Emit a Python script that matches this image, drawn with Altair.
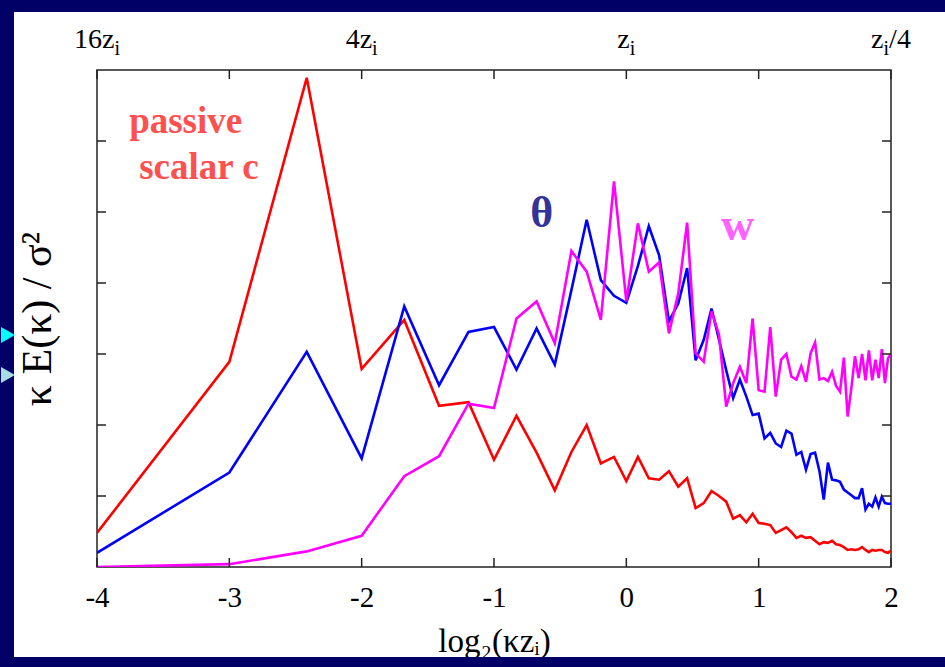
import altair as alt
import pandas as pd
import numpy as np

# wavenumber index n (domain 16 z_i): kz_i = n/16
wavenumber = list(range(1, 65))

passive_c = [0.48, 2.89, 6.89, 2.79, 3.48, 2.27, 2.32, 1.51, 2.13, 1.61,
             1.08, 1.62, 2.00, 1.46, 1.55, 1.21, 1.55, 1.25, 1.23, 1.35,
             1.13, 1.25, 0.83, 0.90, 1.07, 1.00, 0.92, 0.68, 0.73, 0.63,
             0.75, 0.62, 0.61, 0.59, 0.48, 0.52, 0.56, 0.49, 0.41, 0.44,
             0.41, 0.42, 0.37, 0.32, 0.35, 0.34, 0.37, 0.32, 0.31, 0.28,
             0.24, 0.25, 0.24, 0.25, 0.28, 0.24, 0.21, 0.24, 0.23, 0.24,
             0.24, 0.21, 0.20, 0.23]

theta = [0.20, 1.33, 3.03, 1.53, 3.67, 2.56, 3.31, 3.38, 2.78, 3.36,
         2.85, 3.90, 4.89, 4.04, 3.82, 3.72, 4.24, 4.80, 4.39, 3.46,
         3.71, 4.21, 2.91, 3.20, 3.64, 3.20, 2.77, 2.38, 2.64, 2.40,
         2.14, 2.16, 1.81, 1.89, 1.74, 1.69, 1.92, 1.88, 1.58, 1.62,
         1.37, 1.59, 1.61, 1.35, 0.95, 1.47, 1.23, 1.22, 1.20, 1.09,
         1.05, 1.01, 0.97, 0.97, 1.11, 0.81, 0.89, 0.85, 0.98, 0.85,
         0.99, 0.90, 0.89, 0.89]

w_vel = [0.00, 0.04, 0.22, 0.44, 1.28, 1.56, 2.30, 2.24, 3.50, 3.74,
         3.15, 4.45, 4.16, 3.48, 5.43, 3.74, 4.84, 4.16, 4.29, 3.29,
         3.85, 4.85, 3.01, 2.89, 3.60, 3.27, 2.26, 2.59, 2.82, 2.59,
         3.50, 2.49, 2.47, 3.38, 2.40, 2.92, 3.00, 2.68, 2.64, 2.83,
         2.61, 3.01, 3.16, 2.64, 2.66, 2.62, 2.75, 2.55, 2.47, 2.95,
         2.12, 2.52, 2.97, 2.66, 3.00, 2.63, 3.05, 2.63, 2.92, 2.66,
         3.07, 2.59, 2.94, 3.00]

x_ticks = [-4, -3, -2, -1, 0, 1, 2]
y_ticks = [1, 2, 3, 4, 5, 6]
top_positions = [-4, -2, 0, 2]
top_main = ["16z", "4z", "z", "z"]
top_sub = ["i", "i", "i", "i"]
top_tail = ["", "", "", "/4"]

ann_text = ["passive", "scalar c", "θ", "w"]
ann_x = [-3.33, -3.23, -0.64, 0.84]
ann_y = [6.11, 5.46, 4.79, 4.61]
ann_color = ["#ff5050", "#ff5050", "#333399", "#ff60ff"]
ann_size = [37, 37, 44, 46]
ann_weight = ["bold", "bold", "bold", "bold"]

W, H = 794, 497
FONT = "Liberation Serif"
NAVY = "#000066"
TOP_SIZE = 28
SUB_SIZE = 20

xs = [float(np.log2(n / 16)) for n in wavenumber]

xscale = alt.Scale(domain=[-4, 2], nice=False, zero=False)
yscale = alt.Scale(domain=[0, 7], nice=False, zero=False)

xaxis = alt.Axis(values=x_ticks, ticks=False, domain=False, grid=False,
                 labelExpr="'' + datum.value",
                 labelFont=FONT, labelFontSize=29, labelColor="black",
                 labelPadding=16, labelFlush=False,
                 title="log₂(κzᵢ)", titleFont=FONT, titleFontSize=33,
                 titleFontWeight="normal", titleColor="black", titlePadding=13)
yaxis = alt.Axis(labels=False, ticks=False, domain=False, grid=False,
                 title="κ E(κ) / σ²", titleFont=FONT, titleFontSize=42,
                 titleFontWeight="normal", titleColor="black", titlePadding=38)

X = alt.X("x:Q", scale=xscale, axis=xaxis)
Y = alt.Y("y:Q", scale=yscale, axis=yaxis)

one = pd.DataFrame({"a": [0]})


def series_line(vals, color):
    df = pd.DataFrame({"x": xs, "y": vals, "n": wavenumber})
    return alt.Chart(df).mark_line(color=color, strokeWidth=2.6, clip=True).encode(
        x=X, y=Y, order="n:Q")


red = series_line(passive_c, "#ff0000")
blue = series_line(theta, "#0000ff")
mag = series_line(w_vel, "#ff00ff")

tick_df = pd.DataFrame({"x": x_ticks})
ytick_df = pd.DataFrame({"y": y_ticks})
tick_style = dict(color="#222222", strokeWidth=1.5)
bottom_ticks = alt.Chart(tick_df).mark_rule(**tick_style).encode(
    x=X, y=alt.value(H), y2=alt.value(H - 9))
top_ticks = alt.Chart(tick_df).mark_rule(**tick_style).encode(
    x=X, y=alt.value(0), y2=alt.value(9))
left_ticks = alt.Chart(ytick_df).mark_rule(**tick_style).encode(
    y=Y, x=alt.value(0), x2=alt.value(9))
right_ticks = alt.Chart(ytick_df).mark_rule(**tick_style).encode(
    y=Y, x=alt.value(W), x2=alt.value(W - 9))

# top (wavelength) labels: main text + subscript i + optional tail
CW = {"1": 0.5, "6": 0.5, "4": 0.5, "z": 0.444, "/": 0.278, "i": 0.278}


def text_w(s, size):
    return sum(CW.get(c, 0.5) for c in s) * size


top_layers = []
for pos, m, s, t in zip(top_positions, top_main, top_sub, top_tail):
    wm, ws, wt = text_w(m, TOP_SIZE), text_w(s, SUB_SIZE), text_w(t, TOP_SIZE)
    start = -(wm + ws + wt) / 2
    d = pd.DataFrame({"x": [pos]})
    parts = [(m, TOP_SIZE, start, 0), (s, SUB_SIZE, start + wm, 7)]
    if t:
        parts.append((t, TOP_SIZE, start + wm + ws, 0))
    for txt, size, dx, dy in parts:
        top_layers.append(
            alt.Chart(d).mark_text(font=FONT, fontSize=size, color="black",
                                   baseline="alphabetic", align="left",
                                   dx=dx, dy=dy, text=txt).encode(
                x=X, y=alt.value(-22)))

ann_df = pd.DataFrame({"x": ann_x, "y": ann_y, "t": ann_text})
ann_layers = []
for i in range(len(ann_text)):
    ann_layers.append(
        alt.Chart(ann_df.iloc[[i]]).mark_text(
            font=FONT, fontSize=ann_size[i], fontWeight=ann_weight[i],
            color=ann_color[i], baseline="alphabetic", align="center").encode(
            x=X, y=Y, text="t:N"))

# slide frame (navy bands) and bullets
band_top = alt.Chart(one).mark_rect(color=NAVY).encode(
    x=alt.value(-97), x2=alt.value(W + 60), y=alt.value(-70), y2=alt.value(-58))
band_left = alt.Chart(one).mark_rect(color=NAVY).encode(
    x=alt.value(-97), x2=alt.value(-83), y=alt.value(-70), y2=alt.value(H + 110))
band_bottom = alt.Chart(one).mark_rect(color=NAVY).encode(
    x=alt.value(-97), x2=alt.value(W + 60), y=alt.value(H + 90), y2=alt.value(H + 110))
bullet1 = alt.Chart(one).mark_point(shape="triangle-right", filled=True, opacity=1,
                                    color="#00ffff", size=260).encode(
    x=alt.value(-89), y=alt.value(265))
bullet2 = alt.Chart(one).mark_point(shape="triangle-right", filled=True, opacity=1,
                                    color="#a8dce4", size=260).encode(
    x=alt.value(-89), y=alt.value(305))

chart = alt.layer(
    red, blue, mag,
    bottom_ticks, top_ticks, left_ticks, right_ticks,
    *top_layers, *ann_layers,
    band_top, band_left, band_bottom, bullet1, bullet2,
).properties(
    width=W, height=H,
    autosize=alt.AutoSizeParams(type="none"),
    padding={"left": 97, "top": 70, "right": 54, "bottom": 100},
    background="white",
).configure_view(stroke="#222222", strokeWidth=1.5)

chart.save("out.html", embed_options={"renderer": "svg", "actions": False})
